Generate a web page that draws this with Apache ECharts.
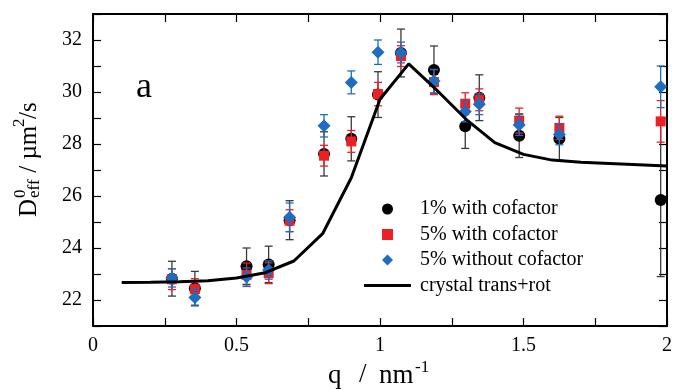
<!DOCTYPE html>
<html>
<head>
<meta charset="utf-8">
<script src="https://cdn.jsdelivr.net/npm/echarts@6/dist/echarts.min.js"></script>
<style>
  html, body { margin: 0; padding: 0; background: #fff; }
  #chart { width: 675px; height: 389px; }
</style>
</head>
<body>
<div id="chart"></div>
<script>
// Wave vector q (nm^-1) of the measured points
const q = [0.275, 0.355, 0.535, 0.612, 0.685, 0.805, 0.900, 0.993, 1.073, 1.188, 1.297, 1.346, 1.485, 1.625, 1.978];

// 1% with cofactor: D_eff^0 and its error
const d1 = [22.82, 22.45, 23.30, 23.37, 25.07, 27.62, 28.20, 29.90, 31.50, 30.85, 28.68, 29.78, 28.32, 28.20, 25.85];
const e1 = [0.67, 0.65, 0.70, 0.70, 0.75, 0.85, 0.85, 0.88, 0.92, 0.92, 0.85, 0.88, 0.84, 0.82, 2.95];

// 5% with cofactor
const d5 = [22.80, 22.42, 22.97, 23.03, 25.05, 27.55, 28.10, 29.92, 31.38, 30.38, 29.55, 29.70, 28.90, 28.62, 28.87];
const e5 = [0.40, 0.40, 0.45, 0.40, 0.42, 0.40, 0.42, 0.45, 0.40, 0.48, 0.42, 0.42, 0.48, 0.45, 0.80];

// 5% without cofactor
const d5n = [22.85, 22.10, 22.88, 23.15, 25.18, 28.70, 30.37, 31.53, 31.52, 30.42, 29.25, 29.53, 28.73, 28.37, 30.20];
const e5n = [0.35, 0.33, 0.35, 0.35, 0.55, 0.43, 0.44, 0.47, 0.40, 0.45, 0.40, 0.40, 0.40, 0.40, 0.80];

// Crystal structure prediction (translation + rotation)
const qModel = [0.1, 0.2, 0.3, 0.4, 0.5, 0.6, 0.7, 0.8, 0.9, 1.0, 1.1, 1.2, 1.3, 1.4, 1.5, 1.6, 1.7, 1.8, 1.9, 2.0];
const dModel = [22.67, 22.68, 22.70, 22.74, 22.85, 23.05, 23.50, 24.55, 26.70, 29.72, 31.08, 30.05, 28.95, 28.05, 27.60, 27.38, 27.30, 27.25, 27.20, 27.15];

// Tick labels
const xTickLabels = ['0', '0.5', '1', '1.5', '2'];
const yTickLabels = ['22', '24', '26', '28', '30', '32'];

const names = ['1% with cofactor', '5% with cofactor', '5% without cofactor', 'crystal trans+rot'];

const SERIF = '"Liberation Serif", "DejaVu Serif", serif';
const RED = '#ec1f24';
const BLUE = '#1f6dc0';

function points(vals) {
  return q.map((x, i) => [x, vals[i]]);
}
function ranges(vals, errs) {
  return q.map((x, i) => [x, vals[i] - errs[i], vals[i] + errs[i]]);
}

// Vertical error bar with short caps at both ends
function errorBar(color) {
  return function (params, api) {
    const x = api.value(0);
    const lo = api.coord([x, api.value(1)]);
    const hi = api.coord([x, api.value(2)]);
    const w = 4;
    const st = { stroke: color, lineWidth: 1.3 };
    return {
      type: 'group',
      children: [
        { type: 'line', shape: { x1: hi[0], y1: hi[1], x2: lo[0], y2: lo[1] }, style: st },
        { type: 'line', shape: { x1: hi[0] - w, y1: hi[1], x2: hi[0] + w, y2: hi[1] }, style: st },
        { type: 'line', shape: { x1: lo[0] - w, y1: lo[1], x2: lo[0] + w, y2: lo[1] }, style: st }
      ]
    };
  };
}

const xFmt = v => {
  const s = String(Math.round(v * 100) / 100);
  return xTickLabels.indexOf(s) >= 0 ? s : '';
};
const yFmt = v => {
  const s = String(Math.round(v));
  return yTickLabels.indexOf(s) >= 0 ? s : '';
};

const axisLine = { show: true, onZero: false, lineStyle: { color: '#000', width: 2 } };
const axisTick = { show: true, inside: true, length: 8, lineStyle: { color: '#000', width: 1.2 } };
const tickFont = { fontFamily: SERIF, fontSize: 20, color: '#000' };

// text helper for titles, centred vertically on y
function txt(x, y, s, size) {
  return {
    type: 'text', x: x, y: y,
    style: { text: s, font: size + 'px ' + SERIF, fill: '#000', verticalAlign: 'middle' }
  };
}

const chart = echarts.init(document.getElementById('chart'), null, { renderer: 'canvas' });

chart.setOption({
  animation: false,
  backgroundColor: '#fff',
  grid: { left: 93, right: 8, top: 14, bottom: 63 },
  xAxis: [
    {
      type: 'value', min: 0, max: 2, interval: 0.25, position: 'bottom',
      axisLine, axisTick, splitLine: { show: false },
      axisLabel: Object.assign({ margin: 10, formatter: xFmt }, tickFont)
    },
    {
      type: 'value', min: 0, max: 2, interval: 0.25, position: 'top',
      axisLine, axisTick, splitLine: { show: false }, axisLabel: { show: false }
    }
  ],
  yAxis: [
    {
      type: 'value', min: 21, max: 33, interval: 1, position: 'left',
      axisLine, axisTick, splitLine: { show: false },
      axisLabel: Object.assign({ margin: 11, formatter: yFmt }, tickFont)
    },
    {
      type: 'value', min: 21, max: 33, interval: 1, position: 'right',
      axisLine, axisTick, splitLine: { show: false }, axisLabel: { show: false }
    }
  ],
  legend: {
    orient: 'vertical',
    left: 359,
    top: 194,
    itemWidth: 47,
    itemHeight: 11,
    itemGap: 5.5,
    selectedMode: false,
    data: [
      { name: names[0], icon: 'circle' },
      { name: names[1], icon: 'path://M0,0H10V10H0Z' },
      { name: names[2], icon: 'path://M5,0L10,5L5,10L0,5Z' },
      { name: names[3], icon: 'path://M0,0H47V3H0Z' }
    ],
    textStyle: { fontFamily: SERIF, fontSize: 20, color: '#000', padding: [0, 0, 0, 4] }
  },
  series: [
    {
      type: 'custom', renderItem: errorBar('#3a3a3a'), data: ranges(d1, e1),
      encode: { x: 0, y: [1, 2] }, z: 2, silent: true
    },
    {
      name: names[0], type: 'scatter', data: points(d1),
      symbol: 'circle', symbolSize: 12, itemStyle: { color: '#000', opacity: 1 }, z: 3
    },
    {
      type: 'custom', renderItem: errorBar(RED), data: ranges(d5, e5),
      encode: { x: 0, y: [1, 2] }, z: 4, silent: true
    },
    {
      name: names[1], type: 'scatter', data: points(d5),
      symbol: 'rect', symbolSize: 10, itemStyle: { color: RED, opacity: 1 }, z: 5
    },
    {
      type: 'custom', renderItem: errorBar(BLUE), data: ranges(d5n, e5n),
      encode: { x: 0, y: [1, 2] }, z: 6, silent: true
    },
    {
      name: names[2], type: 'scatter', data: points(d5n),
      symbol: 'diamond', symbolSize: 13, itemStyle: { color: BLUE, opacity: 1 }, z: 7
    },
    {
      name: names[3], type: 'line', data: qModel.map((x, i) => [x, dModel[i]]),
      symbol: 'none', showSymbol: false, lineStyle: { color: '#000', width: 3 },
      itemStyle: { color: '#000' }, z: 8
    }
  ],
  graphic: [
    // panel letter
    {
      type: 'text', left: 136, top: 70, z: 10,
      style: { text: 'a', font: '36px ' + SERIF, fill: '#000' }
    },
    // x-axis title: q / nm^-1
    {
      type: 'group', x: 0, y: 0, z: 10,
      children: [
        txt(328, 376, 'q', 27),
        txt(359, 375, '/', 27),
        txt(379, 376, 'nm', 27),
        txt(415, 368, '-1', 17)
      ]
    },
    // y-axis title: D^0_eff / µm^2/s, reading bottom to top
    {
      type: 'group', x: 29, y: 217, rotation: Math.PI / 2, z: 10,
      children: [
        txt(0, 0, 'D', 25),
        txt(19, -8.5, '0', 17),
        txt(19, 5.5, 'eff', 17),
        txt(38, 0, ' / \u00b5m', 25),
        txt(90, -9.5, '2', 17),
        txt(98, 0, '/s', 25)
      ]
    }
  ]
});
</script>
</body>
</html>
